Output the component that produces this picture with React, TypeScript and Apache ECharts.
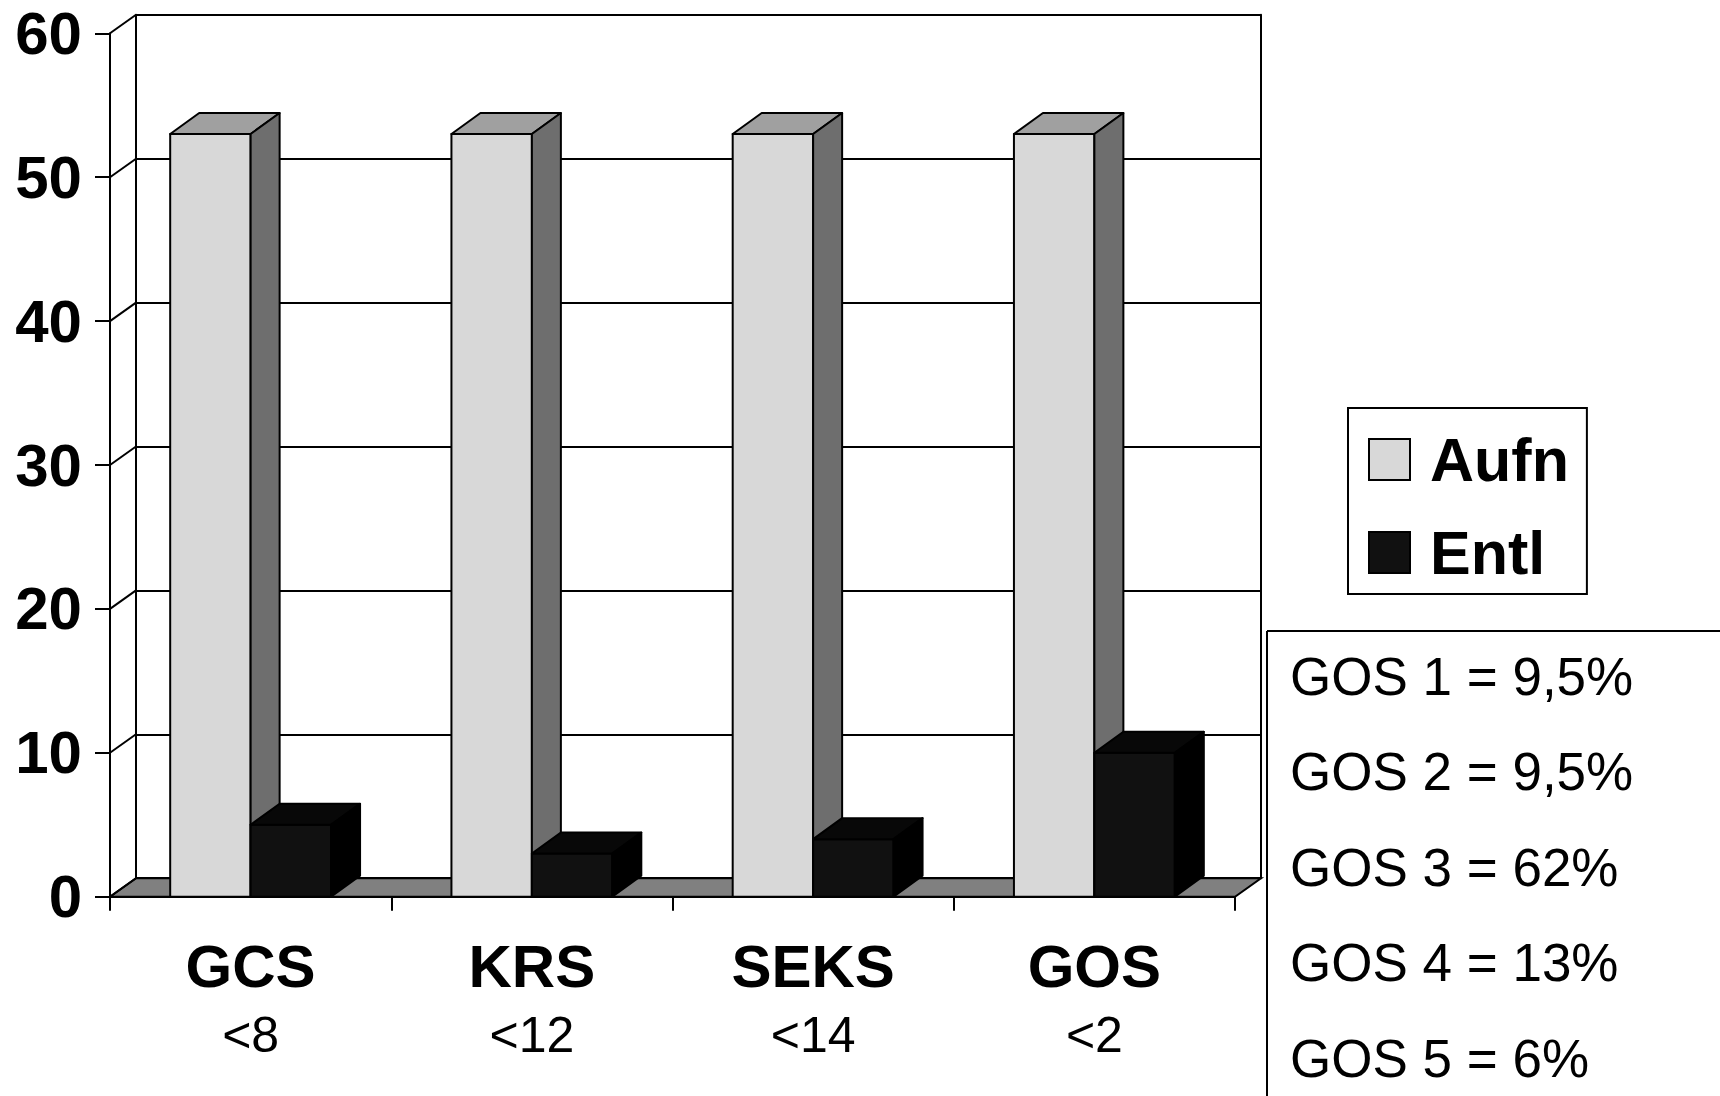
import React, { useEffect, useRef } from "react";
import * as echarts from "echarts";

// Scores and their cut-off values
const categories = ["GCS", "KRS", "SEKS", "GOS"];
const thresholds = ["<8", "<12", "<14", "<2"];

// Patients below the cut-off at admission (Aufn) and at discharge (Entl)
const aufn = [53, 53, 53, 53];
const entl = [5, 3, 4, 10];

// Value axis
const yMin = 0;
const yMax = 60;
const yStep = 10;
const yTicks = [0, 10, 20, 30, 40, 50, 60];

// Outcome distribution printed beside the chart
const gosLines = [
  "GOS 1 = 9,5%",
  "GOS 2 = 9,5%",
  "GOS 3 = 62%",
  "GOS 4 = 13%",
  "GOS 5 = 6%",
];

const FONT = '"Liberation Sans", Arial, Helvetica, sans-serif';

// Pseudo-3D depth of the wall/floor and of the boxes
const WALL_DX = 26;
const WALL_DY = 18.5;
const BAR_DX = 29;
const BAR_DY = 21;
const BAR_W = 0.286; // fraction of a category band per box

type Faces = { front: string; top: string; side: string };

const AUFN_FACES: Faces = { front: "#d8d8d8", top: "#a0a0a0", side: "#6e6e6e" };
const ENTL_FACES: Faces = { front: "#111111", top: "#080808", side: "#000000" };

function boxRenderer(slot: number, faces: Faces) {
  return (params: any, api: any) => {
    const idx = api.value(0);
    const v = api.value(1);
    const top = api.coord([idx, v]);
    const base = api.coord([idx, 0]);
    const band = api.size([1, 0])[0];
    const w = band * BAR_W;
    const x0 = top[0] - w + slot * w;
    const x1 = x0 + w;
    const yt = top[1];
    const yb = base[1];
    const stroke = { stroke: "#000", lineWidth: 2, lineJoin: "round" };
    return {
      type: "group",
      children: [
        {
          type: "rect",
          shape: { x: x0, y: yt, width: w, height: yb - yt },
          style: { fill: faces.front, ...stroke },
        },
        {
          type: "polygon",
          shape: {
            points: [
              [x0, yt],
              [x1, yt],
              [x1 + BAR_DX, yt - BAR_DY],
              [x0 + BAR_DX, yt - BAR_DY],
            ],
          },
          style: { fill: faces.top, ...stroke },
        },
        {
          type: "polygon",
          shape: {
            points: [
              [x1, yt],
              [x1 + BAR_DX, yt - BAR_DY],
              [x1 + BAR_DX, yb - BAR_DY],
              [x1, yb],
            ],
          },
          style: { fill: faces.side, ...stroke },
        },
      ],
    };
  };
}

// Side-wall diagonals at every tick, plus the floor slab at zero
function frameRenderer(params: any, api: any) {
  const v = api.value(1);
  const p = api.coord([0, v]);
  const band = api.size([1, 0])[0];
  const left = p[0] - band / 2;
  const children: any[] = [];
  if (v === 0) {
    const right = api.coord([categories.length - 1, 0])[0] + band / 2;
    children.push({
      type: "polygon",
      shape: {
        points: [
          [left, p[1]],
          [right, p[1]],
          [right + WALL_DX, p[1] - WALL_DY],
          [left + WALL_DX, p[1] - WALL_DY],
        ],
      },
      style: { fill: "#808080", stroke: "#000", lineWidth: 2 },
    });
  }
  children.push({
    type: "line",
    shape: { x1: left, y1: p[1], x2: left + WALL_DX, y2: p[1] - WALL_DY },
    style: { stroke: "#000", lineWidth: 2 },
  });
  return { type: "group", children };
}

export default function App() {
  const ref = useRef<HTMLDivElement>(null);

  useEffect(() => {
    document.body.style.margin = "0";
    document.body.style.overflow = "hidden";
    if (!ref.current) return;
    const chart = echarts.init(ref.current, undefined, { renderer: "svg" });

    const FRONT = { left: 110, top: 33.3, width: 1125, height: 863.4 };
    const BACK = {
      left: FRONT.left + WALL_DX,
      top: FRONT.top - WALL_DY,
      width: FRONT.width,
      height: FRONT.height,
    };

    const axisLine = { show: true, lineStyle: { color: "#000", width: 2 } };

    // Bordered text panel to the right of the plot (open towards the page edge)
    const panelX = 1267;
    const panelY = 631;
    const panelGraphics: any[] = [
      {
        type: "line",
        shape: { x1: panelX, y1: panelY, x2: 1720, y2: panelY },
        style: { stroke: "#000", lineWidth: 2 },
      },
      {
        type: "line",
        shape: { x1: panelX, y1: panelY, x2: panelX, y2: 1096 },
        style: { stroke: "#000", lineWidth: 2 },
      },
      ...gosLines.map((t, i) => ({
        type: "text",
        x: panelX + 23,
        y: panelY + 45 + i * 95.5,
        style: {
          text: t,
          fontSize: 53,
          fontFamily: FONT,
          fill: "#000",
          align: "left",
          verticalAlign: "middle",
        },
      })),
    ];

    chart.setOption({
      animation: false,
      backgroundColor: "#fff",
      grid: [
        { ...FRONT, containLabel: false },
        { ...BACK, containLabel: false },
      ],
      xAxis: [
        {
          type: "category",
          gridIndex: 0,
          data: categories,
          boundaryGap: true,
          axisLine,
          axisTick: { show: true, length: 14, lineStyle: { color: "#000", width: 2 } },
          axisLabel: {
            margin: 35,
            interval: 0,
            formatter: (val: string, i: number) => `{b|${val}}\n{n|${thresholds[i]}}`,
            rich: {
              b: { fontSize: 60, fontWeight: "bold", fontFamily: FONT, color: "#000", lineHeight: 69 },
              n: { fontSize: 50, fontFamily: FONT, color: "#000", lineHeight: 69 },
            },
          },
          splitLine: { show: false },
        },
        {
          type: "value",
          gridIndex: 1,
          min: 0,
          max: 1,
          show: false,
        },
      ],
      yAxis: [
        {
          type: "value",
          gridIndex: 0,
          min: yMin,
          max: yMax,
          interval: yStep,
          axisLine,
          axisTick: { show: true, length: 15, lineStyle: { color: "#000", width: 2 } },
          axisLabel: {
            margin: 28,
            fontSize: 60,
            fontWeight: "bold",
            fontFamily: FONT,
            color: "#000",
          },
          splitLine: { show: false },
        },
        {
          type: "value",
          gridIndex: 1,
          min: yMin,
          max: yMax,
          interval: yStep,
          axisLine,
          axisTick: { show: false },
          axisLabel: { show: false },
          splitLine: { show: true, lineStyle: { color: "#000", width: 2 } },
        },
        {
          type: "value",
          gridIndex: 1,
          position: "right",
          min: yMin,
          max: yMax,
          interval: yStep,
          axisLine,
          axisTick: { show: false },
          axisLabel: { show: false },
          splitLine: { show: false },
        },
      ],
      legend: {
        orient: "vertical",
        left: 1348,
        top: 408,
        padding: [21, 18, 11, 20],
        itemGap: 32,
        itemWidth: 41,
        itemHeight: 41,
        borderColor: "#000",
        borderWidth: 2,
        backgroundColor: "#fff",
        textStyle: {
          fontSize: 61,
          fontWeight: "bold",
          fontFamily: FONT,
          color: "#000",
          padding: [0, 0, 0, 15],
        },
        data: [
          { name: "Aufn", icon: "rect", itemStyle: { color: AUFN_FACES.front, borderColor: "#000", borderWidth: 2 } },
          { name: "Entl", icon: "rect", itemStyle: { color: ENTL_FACES.front, borderColor: "#000", borderWidth: 2 } },
        ],
      },
      series: [
        {
          type: "custom",
          name: "frame",
          xAxisIndex: 0,
          yAxisIndex: 0,
          silent: true,
          renderItem: frameRenderer,
          data: yTicks.map((v) => [0, v]),
          z: 1,
        },
        {
          type: "custom",
          name: "Aufn",
          xAxisIndex: 0,
          yAxisIndex: 0,
          itemStyle: { color: AUFN_FACES.front },
          renderItem: boxRenderer(0, AUFN_FACES),
          data: aufn.map((v, i) => [i, v]),
          z: 2,
        },
        {
          type: "custom",
          name: "Entl",
          xAxisIndex: 0,
          yAxisIndex: 0,
          itemStyle: { color: ENTL_FACES.front },
          renderItem: boxRenderer(1, ENTL_FACES),
          data: entl.map((v, i) => [i, v]),
          z: 3,
        },
      ],
      graphic: panelGraphics,
    });

    return () => chart.dispose();
  }, []);

  return (
    <div
      ref={ref}
      style={{ position: "absolute", left: 0, top: 0, width: 1720, height: 1096 }}
    />
  );
}
